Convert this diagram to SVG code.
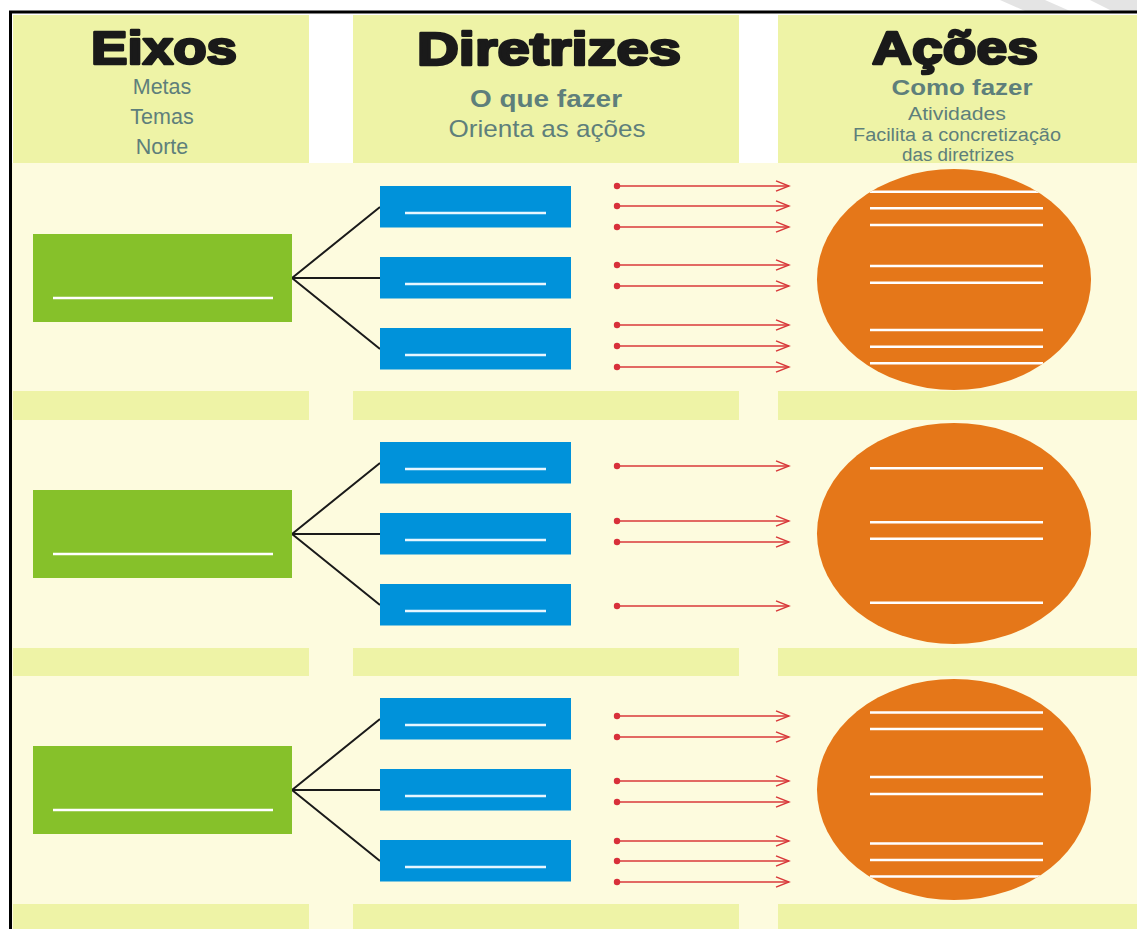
<svg xmlns="http://www.w3.org/2000/svg" width="1137" height="929" viewBox="0 0 1137 929">
<style>
.hdr{fill:#EEF3A6}
.body{fill:#FDFBDE}
.title{font-family:"Liberation Sans",Arial,sans-serif;font-weight:bold;fill:#1a1a1a;stroke:#1a1a1a;stroke-width:2.6;stroke-linejoin:round;font-size:47px;text-anchor:middle}
.sub{font-family:"Liberation Sans",Arial,sans-serif;fill:#5E7F7B;text-anchor:middle}
.subb{font-family:"Liberation Sans",Arial,sans-serif;fill:#5E7F7B;text-anchor:middle;font-weight:bold}
.green{fill:#86C12A}
.blue{fill:#0092DA}
.orange{fill:#E57719}
.wl{stroke:#FFFFFF;stroke-width:2.5}
.bl{stroke:#E6F6FF;stroke-width:2.5}
.link{stroke:#1a1a1a;stroke-width:2;fill:none}
.arr{stroke:#D8383A;stroke-width:1.6;fill:none;marker-start:url(#dot);marker-end:url(#chev)}
</style>
<defs>
<marker id="chev" viewBox="0 0 16 12" refX="14" refY="6" markerWidth="16" markerHeight="12" markerUnits="userSpaceOnUse" orient="auto">
<path d="M1,0.8 L14,6 L1,11.2" fill="none" stroke="#D8383A" stroke-width="1.4"/>
</marker>
<marker id="dot" viewBox="0 0 8 8" refX="4" refY="4" markerWidth="8" markerHeight="8" markerUnits="userSpaceOnUse">
<circle cx="4" cy="4" r="3.2" fill="#D8303A"/>
</marker>
<clipPath id="c1"><ellipse cx="954" cy="279.5" rx="137" ry="110.5"/></clipPath>
<clipPath id="c3"><ellipse cx="954" cy="789.5" rx="137" ry="110.5"/></clipPath>
</defs>
<rect x="0" y="0" width="1137" height="929" fill="#FFFFFF"/>
<polygon points="1000,0 1045,0 1070,11 1025,11" fill="#E4E4E4"/>
<polygon points="1090,0 1137,0 1137,11 1112,11" fill="#E4E4E4"/>
<g id="background">
<rect class="body" x="12" y="163" width="1125" height="766"/>
<rect class="hdr" x="13" y="15" width="296" height="148"/>
<rect class="hdr" x="353" y="15" width="386" height="148"/>
<rect class="hdr" x="778" y="15" width="359" height="148"/>
<rect class="hdr" x="13" y="391" width="296" height="29"/>
<rect class="hdr" x="353" y="391" width="386" height="29"/>
<rect class="hdr" x="778" y="391" width="359" height="29"/>
<rect class="hdr" x="13" y="648" width="296" height="28"/>
<rect class="hdr" x="353" y="648" width="386" height="28"/>
<rect class="hdr" x="778" y="648" width="359" height="28"/>
<rect class="hdr" x="13" y="904" width="296" height="25"/>
<rect class="hdr" x="353" y="904" width="386" height="25"/>
<rect class="hdr" x="778" y="904" width="359" height="25"/>
<path d="M10.5,929 L10.5,12 L1137,12" fill="none" stroke="#000" stroke-width="3"/>
</g>
<g id="header-eixos">
<text class="title" x="164" y="64" textLength="146" lengthAdjust="spacingAndGlyphs">Eixos</text>
<text class="sub" x="162" y="94" font-size="21.5">Metas</text>
<text class="sub" x="162" y="124" font-size="21.5">Temas</text>
<text class="sub" x="162" y="154" font-size="21.5">Norte</text>
</g>
<g id="header-diretrizes">
<text class="title" x="549" y="65" textLength="264" lengthAdjust="spacingAndGlyphs">Diretrizes</text>
<text class="subb" x="546" y="107" font-size="24" textLength="152" lengthAdjust="spacingAndGlyphs">O que fazer</text>
<text class="sub" x="547" y="137" font-size="24" textLength="197" lengthAdjust="spacingAndGlyphs">Orienta as ações</text>
</g>
<g id="header-acoes">
<text class="title" x="955" y="64" textLength="166" lengthAdjust="spacingAndGlyphs">Ações</text>
<text class="subb" x="962" y="95" font-size="22.5" textLength="141" lengthAdjust="spacingAndGlyphs">Como fazer</text>
<text class="sub" x="957" y="120" font-size="18" textLength="98" lengthAdjust="spacingAndGlyphs">Atividades</text>
<text class="sub" x="957" y="141" font-size="18" textLength="208" lengthAdjust="spacingAndGlyphs">Facilita a concretização</text>
<text class="sub" x="958" y="161" font-size="18" textLength="112" lengthAdjust="spacingAndGlyphs">das diretrizes</text>
</g>
<g id="connectors">
<path class="link" d="M292,278 L380,207 M292,278 L380,278 M292,278 L380,349"/>
<path class="link" d="M292,534 L380,463 M292,534 L380,534 M292,534 L380,605"/>
<path class="link" d="M292,790 L380,719 M292,790 L380,790 M292,790 L380,861"/>
<line class="arr" x1="617" y1="186" x2="789" y2="186"/>
<line class="arr" x1="617" y1="206" x2="789" y2="206"/>
<line class="arr" x1="617" y1="227" x2="789" y2="227"/>
<line class="arr" x1="617" y1="265" x2="789" y2="265"/>
<line class="arr" x1="617" y1="286" x2="789" y2="286"/>
<line class="arr" x1="617" y1="325" x2="789" y2="325"/>
<line class="arr" x1="617" y1="346" x2="789" y2="346"/>
<line class="arr" x1="617" y1="367" x2="789" y2="367"/>
<line class="arr" x1="617" y1="466" x2="789" y2="466"/>
<line class="arr" x1="617" y1="521" x2="789" y2="521"/>
<line class="arr" x1="617" y1="542" x2="789" y2="542"/>
<line class="arr" x1="617" y1="606" x2="789" y2="606"/>
<line class="arr" x1="617" y1="716" x2="789" y2="716"/>
<line class="arr" x1="617" y1="737" x2="789" y2="737"/>
<line class="arr" x1="617" y1="781" x2="789" y2="781"/>
<line class="arr" x1="617" y1="802" x2="789" y2="802"/>
<line class="arr" x1="617" y1="841" x2="789" y2="841"/>
<line class="arr" x1="617" y1="861" x2="789" y2="861"/>
<line class="arr" x1="617" y1="882" x2="789" y2="882"/>
</g>
<g id="eixo-1"><rect class="green" x="33" y="234" width="259" height="88"/><line class="wl" x1="53" y1="298" x2="273" y2="298"/></g>
<g id="eixo-2"><rect class="green" x="33" y="490" width="259" height="88"/><line class="wl" x1="53" y1="554" x2="273" y2="554"/></g>
<g id="eixo-3"><rect class="green" x="33" y="746" width="259" height="88"/><line class="wl" x1="53" y1="810" x2="273" y2="810"/></g>
<g id="diretriz-1-1"><rect class="blue" x="380" y="186" width="191" height="41.5"/><line class="bl" x1="405" y1="213" x2="546" y2="213"/></g>
<g id="diretriz-1-2"><rect class="blue" x="380" y="257" width="191" height="41.5"/><line class="bl" x1="405" y1="284" x2="546" y2="284"/></g>
<g id="diretriz-1-3"><rect class="blue" x="380" y="328" width="191" height="41.5"/><line class="bl" x1="405" y1="355" x2="546" y2="355"/></g>
<g id="diretriz-2-1"><rect class="blue" x="380" y="442" width="191" height="41.5"/><line class="bl" x1="405" y1="469" x2="546" y2="469"/></g>
<g id="diretriz-2-2"><rect class="blue" x="380" y="513" width="191" height="41.5"/><line class="bl" x1="405" y1="540" x2="546" y2="540"/></g>
<g id="diretriz-2-3"><rect class="blue" x="380" y="584" width="191" height="41.5"/><line class="bl" x1="405" y1="611" x2="546" y2="611"/></g>
<g id="diretriz-3-1"><rect class="blue" x="380" y="698" width="191" height="41.5"/><line class="bl" x1="405" y1="725" x2="546" y2="725"/></g>
<g id="diretriz-3-2"><rect class="blue" x="380" y="769" width="191" height="41.5"/><line class="bl" x1="405" y1="796" x2="546" y2="796"/></g>
<g id="diretriz-3-3"><rect class="blue" x="380" y="840" width="191" height="41.5"/><line class="bl" x1="405" y1="867" x2="546" y2="867"/></g>
<g id="acoes-1">
<ellipse class="orange" cx="954" cy="279.5" rx="137" ry="110.5"/>
<path class="wl" clip-path="url(#c1)" d="M870,191.7 H1043 M870,208.3 H1043 M870,225 H1043 M870,266 H1043 M870,282.7 H1043 M870,330 H1043 M870,346.7 H1043 M870,363.3 H1043"/>
</g>
<g id="acoes-2">
<ellipse class="orange" cx="954" cy="533.5" rx="137" ry="110.5"/>
<path class="wl" d="M870,468.3 H1043 M870,522.3 H1043 M870,538.7 H1043 M870,602.7 H1043"/>
</g>
<g id="acoes-3">
<ellipse class="orange" cx="954" cy="789.5" rx="137" ry="110.5"/>
<path class="wl" clip-path="url(#c3)" d="M870,712.5 H1043 M870,729 H1043 M870,777 H1043 M870,794 H1043 M870,843.5 H1043 M870,860 H1043 M870,876.5 H1043"/>
</g>
</svg>
